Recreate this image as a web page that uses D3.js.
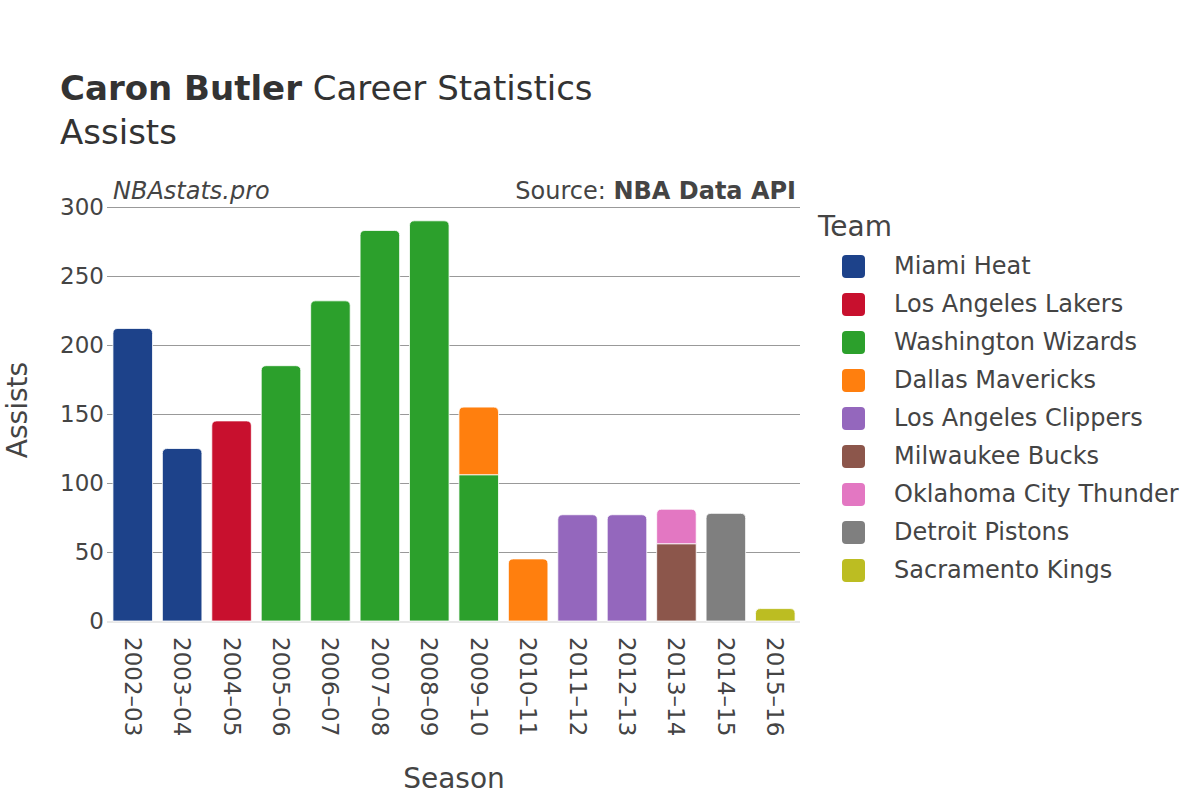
<!DOCTYPE html>
<html>
<head>
<meta charset="utf-8">
<script src="https://cdn.jsdelivr.net/npm/d3@7"></script>
<style>
  body { margin: 0; background: #fff; }
  svg { font-family: "DejaVu Sans", sans-serif; }
</style>
</head>
<body>
<svg width="1200" height="800"></svg>
<script>
// data
const seasons = ["2002–03", "2003–04", "2004–05", "2005–06", "2006–07", "2007–08", "2008–09",
  "2009–10", "2010–11", "2011–12", "2012–13", "2013–14", "2014–15", "2015–16"];
const teams = ["Miami Heat", "Los Angeles Lakers", "Washington Wizards", "Dallas Mavericks",
  "Los Angeles Clippers", "Milwaukee Bucks", "Oklahoma City Thunder", "Detroit Pistons", "Sacramento Kings"];
const teamColors = ["#1d428a", "#c8102e", "#2ca02c", "#ff7f0e", "#9467bd", "#8c564b", "#e377c2", "#7f7f7f", "#bcbd22"];
// one entry per stint: season, team, assists (stacked in this order)
const stintSeason = ["2002–03", "2003–04", "2004–05", "2005–06", "2006–07", "2007–08", "2008–09",
  "2009–10", "2009–10", "2010–11", "2011–12", "2012–13", "2013–14", "2013–14", "2014–15", "2015–16"];
const stintTeam = ["Miami Heat", "Miami Heat", "Los Angeles Lakers", "Washington Wizards", "Washington Wizards",
  "Washington Wizards", "Washington Wizards", "Washington Wizards", "Dallas Mavericks", "Dallas Mavericks",
  "Los Angeles Clippers", "Los Angeles Clippers", "Milwaukee Bucks", "Oklahoma City Thunder",
  "Detroit Pistons", "Sacramento Kings"];
const stintAssists = [212, 125, 145, 185, 232, 283, 290, 106, 49, 45, 77, 77, 56, 25, 78, 9];
const yTicks = [0, 50, 100, 150, 200, 250, 300];

const svg = d3.select('svg');
const plot = { left: 108, right: 800, top: 207, bottom: 621 };

const x = d3.scaleBand().domain(seasons).range([plot.left, plot.right])
  .paddingInner(0.2).paddingOuter(0.1);
const y = d3.scaleLinear().domain([0, 300]).range([plot.bottom, plot.top]);
const color = d3.scaleOrdinal().domain(teams).range(teamColors);

// stack stints within a season
const offsets = {};
const stints = stintSeason.map((s, i) => {
  const base = offsets[s] || 0;
  offsets[s] = base + stintAssists[i];
  return { season: s, team: stintTeam[i], y0: base, y1: base + stintAssists[i] };
});
stints.forEach(d => { d.top = d.y1 === offsets[d.season]; });

// gridlines
svg.append('g').selectAll('line').data(yTicks.filter(t => t > 0)).join('line')
  .attr('x1', 107).attr('x2', plot.right)
  .attr('y1', d => Math.round(y(d)) + 0.5).attr('y2', d => Math.round(y(d)) + 0.5)
  .attr('stroke', '#999').attr('stroke-width', 1);

// zero line
svg.append('line')
  .attr('x1', 107).attr('x2', plot.right)
  .attr('y1', y(0) + 1).attr('y2', y(0) + 1)
  .attr('stroke', '#e8e8e8').attr('stroke-width', 2);

// bars, rounded top corners on the top segment only
function barPath(d) {
  const x0 = x(d.season), w = x.bandwidth();
  const yt = y(d.y1), yb = y(d.y0);
  const r = d.top ? Math.min(5, (yb - yt) / 2) : 0;
  return `M${x0},${yb}V${yt + r}Q${x0},${yt} ${x0 + r},${yt}H${x0 + w - r}Q${x0 + w},${yt} ${x0 + w},${yt + r}V${yb}Z`;
}
svg.append('g').selectAll('path').data(stints).join('path')
  .attr('d', barPath)
  .attr('fill', d => color(d.team))
  .attr('stroke', '#fff').attr('stroke-width', 0.8);

// y tick labels
svg.append('g').selectAll('text').data(yTicks).join('text')
  .attr('x', 104).attr('y', d => y(d))
  .attr('dy', '0.35em')
  .attr('text-anchor', 'end')
  .attr('font-size', 23).attr('fill', '#444')
  .text(d => d);

// x tick labels, rotated
svg.append('g').selectAll('text').data(seasons).join('text')
  .attr('transform', d => `translate(${x(d) + x.bandwidth() / 2},637) rotate(90)`)
  .attr('dy', '0.35em')
  .attr('font-size', 23).attr('fill', '#444')
  .text(d => d);

// axis titles
svg.append('text')
  .attr('transform', 'translate(27,410) rotate(-90)')
  .attr('text-anchor', 'middle')
  .attr('font-size', 28).attr('fill', '#444')
  .text('Assists');
svg.append('text')
  .attr('x', 454).attr('y', 788)
  .attr('text-anchor', 'middle')
  .attr('font-size', 28).attr('fill', '#444')
  .text('Season');

// title
const title = svg.append('text').attr('x', 60).attr('y', 100)
  .attr('font-size', 34).attr('fill', '#333');
title.append('tspan').attr('font-weight', 'bold').text('Caron Butler');
title.append('tspan').text(' Career Statistics');
svg.append('text').attr('x', 60).attr('y', 144)
  .attr('font-size', 34).attr('fill', '#333')
  .text('Assists');

// watermark + source
svg.append('text').attr('x', 113).attr('y', 199)
  .attr('font-size', 24).attr('font-style', 'italic').attr('fill', '#444')
  .text('NBAstats.pro');
const src = svg.append('text').attr('x', 796).attr('y', 199)
  .attr('text-anchor', 'end')
  .attr('font-size', 24).attr('fill', '#444');
src.append('tspan').text('Source: ');
src.append('tspan').attr('font-weight', 'bold').text('NBA Data API');

// legend
const legend = svg.append('g');
legend.append('text').attr('x', 818).attr('y', 236)
  .attr('font-size', 28).attr('fill', '#444')
  .text('Team');
const item = legend.selectAll('g.item').data(teams).join('g')
  .attr('class', 'item')
  .attr('transform', (d, i) => `translate(0,${266 + i * 38})`);
item.append('rect')
  .attr('x', 842).attr('y', -11).attr('width', 23).attr('height', 23)
  .attr('rx', 4)
  .attr('fill', d => color(d));
item.append('text')
  .attr('x', 894).attr('dy', '0.35em')
  .attr('font-size', 24).attr('fill', '#444')
  .text(d => d);
</script>
</body>
</html>
